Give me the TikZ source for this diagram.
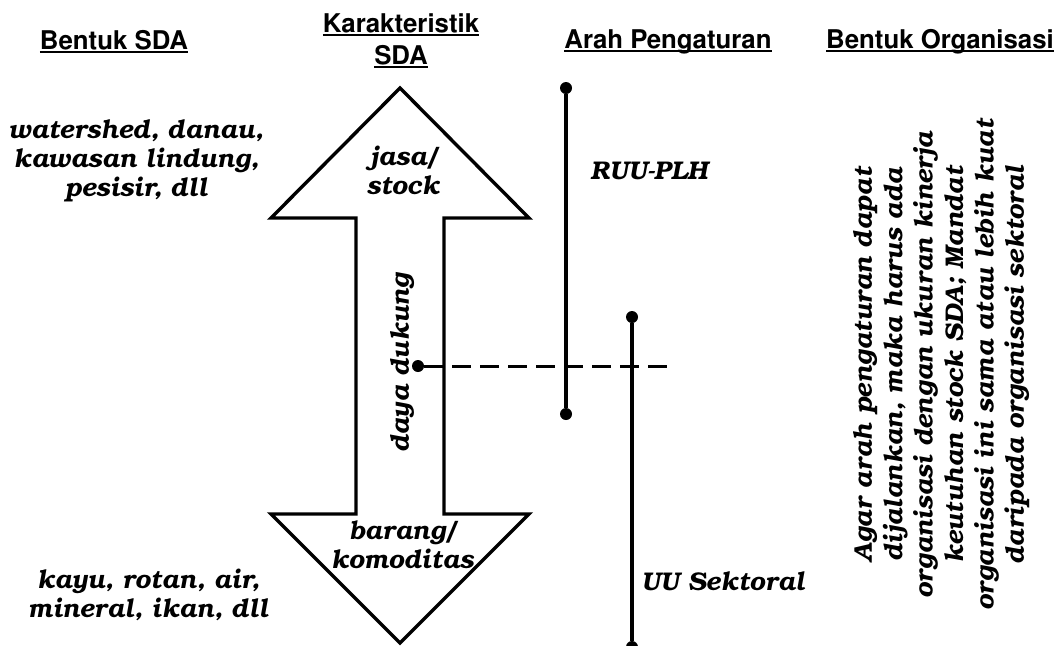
\documentclass[tikz,border=0pt]{standalone}
\usepackage[T1]{fontenc}
\usepackage{tikz}
\newcommand{\bkfont}{\fontfamily{pbk}\fontseries{b}\fontshape{it}\fontsize{12.8}{14.3}\selectfont}
\newcommand{\bkwide}{\fontfamily{pbk}\fontseries{b}\fontshape{it}\fontsize{12.8}{15.2}\selectfont}
\newcommand{\hvfont}{\fontfamily{phv}\fontseries{b}\fontshape{n}\fontsize{12.9}{16}\selectfont}
\newcommand{\ul}[1]{\setbox0\hbox{#1}\rlap{\rule[-2.2pt]{\wd0}{1.1pt}}\box0}
\tikzset{
    heading/.style={font=\hvfont,align=center,inner sep=0pt},
    note/.style={font=\bkfont,align=center,inner sep=0pt},
    outline/.style={black,line width=1.7pt,fill=white,line join=miter},
    rule/.style={black,line width=1.7pt},
    dot/.style={circle,fill=black,inner sep=0pt,minimum size=6pt},
    guide/.style={black,line width=1.5pt,dash pattern=on 9.5pt off 4.5pt}
}
\begin{document}
\begin{tikzpicture}[x=0.5pt,y=-0.5pt]
\useasboundingbox (0,0) rectangle (1059,645);
\node[heading,anchor=base] (hbentuk) at (114,49) {\ul{Bentuk SDA}};
\node[heading,anchor=base] (hkarak) at (401,64) {\ul{Karakteristik}\\\ul{SDA}};
\node[heading,anchor=base] (harah) at (668,48) {\ul{Arah Pengaturan}};
\node[heading,anchor=base] (horg) at (940,48) {\ul{Bentuk Organisasi}};
\draw[outline] (271,218)--(400,88)--(529,218)--(444,218)--(444,514)--(529,514)--(400,643)
    --(271,514)--(356,514)--(356,218)--cycle;
\node[note,anchor=base] (jasa) at (403,194) {jasa/\\stock};
\node[note,anchor=base] (barang) at (402,568) {barang/\\komoditas};
\node[note,rotate=90] (daya) at (402,363) {daya dukung};
\node[note,anchor=base] (lindung) at (136,196) {watershed, danau,\\kawasan lindung,\\pesisir, dll};
\node[note,anchor=base] (kayu) at (148,617) {kayu, rotan, air,\\mineral, ikan, dll};
\node[dot] (ruutop) at (566,88) {};
\node[dot] (ruubot) at (566,414) {};
\draw[rule] (ruutop)--(ruubot);
\node[note,anchor=base west] (ruu) at (590,179) {RUU-PLH};
\node[dot] (uutop) at (632,317) {};
\node[dot] (uubot) at (632,647) {};
\draw[rule] (uutop)--(uubot);
\node[note,anchor=base west] (uu) at (641,590) {UU Sektoral};
\node[dot] (dayadot) at (418,366) {};
\coordinate (dashend) at (672,366);
\draw[guide] (dayadot)--(dashend);
\node[note,rotate=90,font=\bkwide] (mandat) at (941,365)
    {Agar arah pengaturan dapat\\dijalankan, maka harus ada\\organisasi dengan ukuran kinerja\\keutuhan stock SDA; Mandat\\organisasi ini sama atau lebih kuat\\daripada organisasi sektoral};
\end{tikzpicture}
\end{document}
